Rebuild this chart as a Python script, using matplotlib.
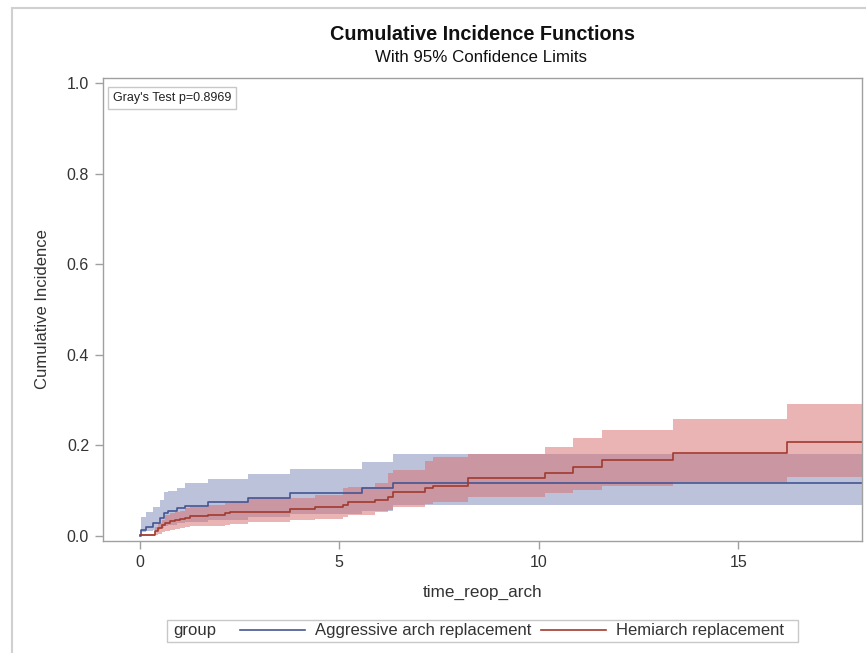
import matplotlib
matplotlib.use("Agg")
import matplotlib.pyplot as plt
from matplotlib.lines import Line2D
from matplotlib.patches import Rectangle

plt.rcParams['font.family'] = ['Liberation Sans', 'DejaVu Sans']

# ---- data ----
agg_time = [0, 0.02, 0.15, 0.33, 0.5, 0.6, 0.70, 0.93, 1.13, 1.70, 2.71, 3.76, 5.56, 6.34, 18.1]
agg_cif = [0, 0.013, 0.019, 0.028, 0.039, 0.050, 0.056, 0.061, 0.067, 0.074, 0.083, 0.094, 0.105, 0.118, 0.118]
agg_upper = [0, 0.043, 0.054, 0.065, 0.079, 0.098, 0.100, 0.105, 0.116, 0.125, 0.136, 0.149, 0.164, 0.182, 0.182]
agg_lower = [0, 0.008, 0.010, 0.014, 0.018, 0.022, 0.025, 0.028, 0.031, 0.036, 0.042, 0.048, 0.056, 0.068, 0.068]

hemi_time = [0, 0.38, 0.45, 0.55, 0.63, 0.75, 0.88, 1.0, 1.13, 1.25, 1.70, 2.13, 2.26, 2.71, 3.76,
             4.39, 5.09, 5.21, 5.89, 6.22, 6.34, 7.14, 7.34, 8.22, 10.15, 10.85, 11.58, 13.36, 16.22, 18.1]
hemi_cif = [0.003, 0.010, 0.017, 0.024, 0.029, 0.033, 0.035, 0.037, 0.040, 0.045, 0.046, 0.050, 0.053, 0.054, 0.059,
            0.063, 0.068, 0.074, 0.079, 0.087, 0.098, 0.105, 0.110, 0.127, 0.139, 0.152, 0.168, 0.184, 0.207, 0.207]
hemi_upper = [0.005, 0.021, 0.028, 0.035, 0.046, 0.050, 0.054, 0.056, 0.061, 0.063, 0.068, 0.073, 0.076, 0.083, 0.085,
              0.090, 0.105, 0.109, 0.118, 0.138, 0.145, 0.165, 0.175, 0.181, 0.197, 0.216, 0.234, 0.258, 0.291, 0.291]
hemi_lower = [0.0, 0.002, 0.005, 0.008, 0.011, 0.013, 0.015, 0.017, 0.019, 0.022, 0.023, 0.025, 0.027, 0.032, 0.035,
              0.038, 0.042, 0.047, 0.052, 0.058, 0.065, 0.070, 0.074, 0.087, 0.094, 0.102, 0.110, 0.120, 0.131, 0.131]

x_ticks = [0, 5, 10, 15]
y_ticks = [0.0, 0.2, 0.4, 0.6, 0.8, 1.0]
group_labels = ['Aggressive arch replacement', 'Hemiarch replacement']

blue_line = '#445694'
red_line = '#A23A2E'
blue_fill = '#7D87B9'
red_fill = '#D56B69'
axis_gray = '#A0A0A0'
text_col = '#333333'

fig = plt.figure(figsize=(8.66, 6.53), dpi=100)
W, H = 866, 653
ax = fig.add_axes([103 / W, 1 - 541 / H, (862 - 103) / W, (541 - 78) / H])

ax.fill_between(agg_time, agg_lower, agg_upper, step='post', color=blue_fill, alpha=0.5, lw=0)
ax.fill_between(hemi_time, hemi_lower, hemi_upper, step='post', color=red_fill, alpha=0.5, lw=0)
l1, = ax.step(agg_time, agg_cif, where='post', color=blue_line, lw=1.2)
l2, = ax.step(hemi_time, hemi_cif, where='post', color=red_line, lw=1.2)

ax.set_xlim(-0.92, 18.1)
ax.set_ylim(-0.011, 1.011)
ax.set_xticks(x_ticks)
ax.set_xticklabels([str(v) for v in x_ticks])
ax.set_yticks(y_ticks)
ax.set_yticklabels(['%.1f' % v for v in y_ticks])
for s in ax.spines.values():
    s.set_color(axis_gray)
    s.set_linewidth(1.0)
ax.tick_params(axis='both', direction='out', length=6, width=1, color=axis_gray,
               labelsize=11.5, labelcolor=text_col, pad=4)
ax.set_xlabel('time_reop_arch', fontsize=12.3, color=text_col, labelpad=11)
ax.set_ylabel('Cumulative Incidence', fontsize=12, color=text_col, labelpad=12)

ax.text(0.0135, 0.970, "Gray's Test p=0.8969", transform=ax.transAxes, ha='left', va='top',
        fontsize=9.0, color='#222222',
        bbox=dict(boxstyle='square,pad=0.38', fc='white', ec='#C8C8C8', lw=1))

fig.text(483 / W, 1 - 35 / H, 'Cumulative Incidence Functions', ha='center', va='center',
         fontsize=14.3, fontweight='bold', color='#111111')
fig.text(481 / W, 1 - 57 / H, 'With 95% Confidence Limits', ha='center', va='center',
         fontsize=12.2, color='#111111')

# outer frame (top and left visible)
fig.add_artist(Line2D([12 / W, 12 / W], [0, 1 - 8 / H], transform=fig.transFigure,
                      color='#D0D0D0', lw=1.5))
fig.add_artist(Line2D([12 / W, 1], [1 - 8 / H, 1 - 8 / H], transform=fig.transFigure,
                      color='#D0D0D0', lw=1.5))

# legend box
fig.add_artist(Rectangle((167 / W, 1 - 642 / H), (798 - 167) / W, 22 / H, transform=fig.transFigure,
                         fc='white', ec='#C8C8C8', lw=1))
fig.text(173 / W, 1 - 631 / H, 'group', ha='left', va='center', fontsize=12, color=text_col)
leg = fig.legend([l1, l2], group_labels, ncol=2, frameon=False, loc='center left',
                 bbox_to_anchor=(240 / W, 1 - 631 / H), fontsize=12,
                 handlelength=3.9, handletextpad=0.6, columnspacing=0.55, borderaxespad=0,
                 borderpad=0)
for t in leg.get_texts():
    t.set_color(text_col)

fig.savefig('out.png', dpi=100)
